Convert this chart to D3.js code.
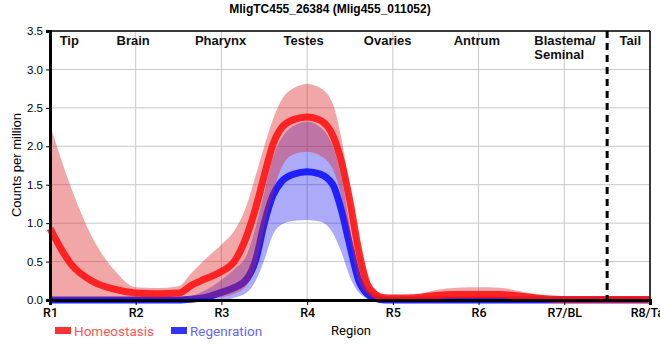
<!DOCTYPE html>
<html><head><meta charset="utf-8">
<script src="https://cdn.jsdelivr.net/npm/d3@7"></script>
<style>body{margin:0;background:#fff}svg{display:block}</style>
</head><body><svg id="c" width="660" height="360"></svg>
<script>
const title = "MligTC455_26384 (Mlig455_011052)";
const xTickValues = [1,2,3,4,5,6,7,8];
const xTickLabels = ["R1","R2","R3","R4","R5","R6","R7/BL","R8/Tail"];
const yTickValues = [0,0.5,1,1.5,2,2.5,3,3.5];
const regionNames = ["Tip","Brain","Pharynx","Testes","Ovaries","Antrum","Blastema/|Seminal","Tail"];
const regionAt = [1.225,1.97,2.99,3.96,4.94,5.98,6.65,7.77];
const boundaryAt = 7.5;
const seriesNames = ["Homeostasis","Regenration"];

// sample positions along the region axis
const pos = [1,1.25,1.5,1.75,2,2.25,2.5,2.65,2.8,3,3.15,3.3,3.4,3.5,3.6,3.7,3.85,4,4.15,4.3,4.4,4.5,4.6,4.7,4.8,4.9,5,5.25,5.5,5.75,6,6.25,6.5,6.75,7,7.5,8];
const homeoMean  = [0.93,0.46,0.24,0.14,0.09,0.08,0.09,0.19,0.27,0.37,0.5,0.85,1.2,1.62,2.02,2.24,2.35,2.38,2.34,2.14,1.8,1.28,0.65,0.21,0.07,0.03,0.025,0.03,0.06,0.07,0.07,0.07,0.05,0.02,0.005,0.005,0.005];
const homeoUpper = [2.28,1.45,0.8,0.39,0.165,0.155,0.18,0.35,0.52,0.72,0.9,1.25,1.62,2.0,2.35,2.6,2.76,2.81,2.76,2.55,2.1,1.4,0.77,0.3,0.12,0.06,0.04,0.06,0.13,0.16,0.165,0.16,0.11,0.05,0.025,0.02,0.02];
const homeoLower = [0.03,0.03,0.03,0.03,0.03,0.03,0.03,0.03,0.03,0.04,0.08,0.2,0.45,0.95,1.38,1.72,1.9,1.93,1.88,1.7,1.35,0.8,0.25,0.08,0.02,0.01,0.01,0.01,0.02,0.02,0.02,0.02,0.01,0.005,0,0,0];
const regenMean  = [0,0,0,0,0,0,0,0.01,0.03,0.1,0.16,0.28,0.52,1.0,1.36,1.54,1.64,1.67,1.64,1.5,1.17,0.7,0.26,0.08,0.02,0,0,0,0,0,0,0,0,0,0,0,0];
const regenUpper = [0.02,0.02,0.02,0.02,0.02,0.02,0.02,0.05,0.12,0.26,0.4,0.6,0.95,1.4,1.85,2.1,2.27,2.32,2.25,2.0,1.6,0.95,0.3,0.05,0.02,0.01,0.01,0.01,0.01,0.01,0.01,0.01,0.01,0.01,0.01,0.01,0.01];
const regenLower = [0,0,0,0,0,0,0,0,0,0,0.03,0.1,0.25,0.52,0.85,0.98,1.03,1.04,1.02,0.87,0.62,0.3,0.1,0.02,0,0,0,0,0,0,0,0,0,0,0,0,0];

const svg = d3.select("#c");
const L=50, R=650, T=31, B=300;
const x = d3.scaleLinear().domain([1,8]).range([L,R]);
const y = d3.scaleLinear().domain([0,3.5]).range([B,T]);

// grid
svg.append("g").selectAll("line").data(xTickValues).join("line")
  .attr("x1",d=>x(d)).attr("x2",d=>x(d)).attr("y1",T).attr("y2",B)
  .attr("stroke","#c8c8c8").attr("stroke-width",1);
svg.append("g").selectAll("line").data(yTickValues).join("line")
  .attr("x1",L).attr("x2",R).attr("y1",d=>y(d)).attr("y2",d=>y(d))
  .attr("stroke","#c8c8c8").attr("stroke-width",1);

function rows(lo,hi,m){return pos.map((p,i)=>({p,lo:lo[i],hi:hi[i],m:m[i]}));}
const area = d3.area().x(d=>x(d.p)).y0(d=>y(d.lo)).y1(d=>y(d.hi)).curve(d3.curveMonotoneX);
const line = d3.line().x(d=>x(d.p)).y(d=>y(d.m)).curve(d3.curveMonotoneX);
const hRows = rows(homeoLower,homeoUpper,homeoMean);
const rRows = rows(regenLower,regenUpper,regenMean);

svg.append("path").datum(rRows).attr("d",area).attr("fill","#0000f0").attr("fill-opacity",0.33);
svg.append("path").datum(rRows).attr("d",line).attr("fill","none").attr("stroke","#2020ff").attr("stroke-width",7);
svg.append("path").datum(hRows).attr("d",area).attr("fill","#dd2222").attr("fill-opacity",0.4);
svg.append("path").datum(hRows).attr("d",line).attr("fill","none").attr("stroke","#ff1010").attr("stroke-opacity",0.88).attr("stroke-width",7);

// frame
svg.append("line").attr("x1",L).attr("x2",R).attr("y1",T).attr("y2",T).attr("stroke","#000").attr("stroke-width",1.5);
svg.append("line").attr("x1",R).attr("x2",R).attr("y1",T).attr("y2",B).attr("stroke","#000").attr("stroke-width",1.5);

// axes
const xa = svg.append("g").attr("transform",`translate(0,${B})`)
  .call(d3.axisBottom(x).tickValues(xTickValues).tickFormat((d,i)=>xTickLabels[i]).tickSize(5).tickPadding(3));
xa.select(".domain").attr("stroke-width",3);
xa.selectAll("text").attr("font-family","Roboto, sans-serif").attr("font-size",12.5).attr("font-weight",500).attr("fill","#000");
const ya = svg.append("g").attr("transform",`translate(${L},0)`)
  .call(d3.axisLeft(y).tickValues(yTickValues).tickFormat(d3.format(".1f")).tickSize(4).tickPadding(3));
ya.select(".domain").attr("stroke-width",3);
ya.selectAll("text").attr("font-family","Liberation Sans, Arial, sans-serif").attr("font-size",11.5).attr("fill","#000");

// boundary dashed line
svg.append("line").attr("x1",x(boundaryAt)).attr("x2",x(boundaryAt)).attr("y1",T).attr("y2",B)
  .attr("stroke","#000").attr("stroke-width",3).attr("stroke-dasharray","7,5");

// region labels
regionNames.forEach((n,i)=>{
  const parts = n.split("|");
  const t = svg.append("text").attr("font-family","Liberation Sans, Arial, sans-serif")
    .attr("font-weight","bold").attr("font-size",13).attr("fill","#111")
    .attr("text-anchor",parts.length>1?"start":"middle");
  parts.forEach((p,j)=>t.append("tspan").attr("x",x(regionAt[i])).attr("y",45+j*14).text(p));
});

// title
svg.append("text").attr("x",330).attr("y",13).attr("text-anchor","middle")
  .attr("font-family","Liberation Sans, Arial, sans-serif").attr("font-weight","bold").attr("font-size",12).text(title);
// axis titles
svg.append("text").attr("transform","translate(21,165) rotate(-90)").attr("text-anchor","middle")
  .attr("font-family","Liberation Sans, Arial, sans-serif").attr("font-size",13).text("Counts per million");
svg.append("text").attr("x",351).attr("y",335).attr("text-anchor","middle")
  .attr("font-family","Roboto, sans-serif").attr("font-size",13).text("Region");

// legend
const legColors = [["#ff3333","#ff5555"],["#3333ff","#6666ff"]];
const legX = [55,171];
seriesNames.forEach((n,i)=>{
  svg.append("rect").attr("x",legX[i]).attr("y",327).attr("width",16).attr("height",7).attr("fill",legColors[i][0]);
  svg.append("text").attr("x",legX[i]+19).attr("y",336).attr("font-family","Roboto, sans-serif")
    .attr("font-size",13.5).attr("fill",legColors[i][1]).text(n);
});
</script></body></html>
